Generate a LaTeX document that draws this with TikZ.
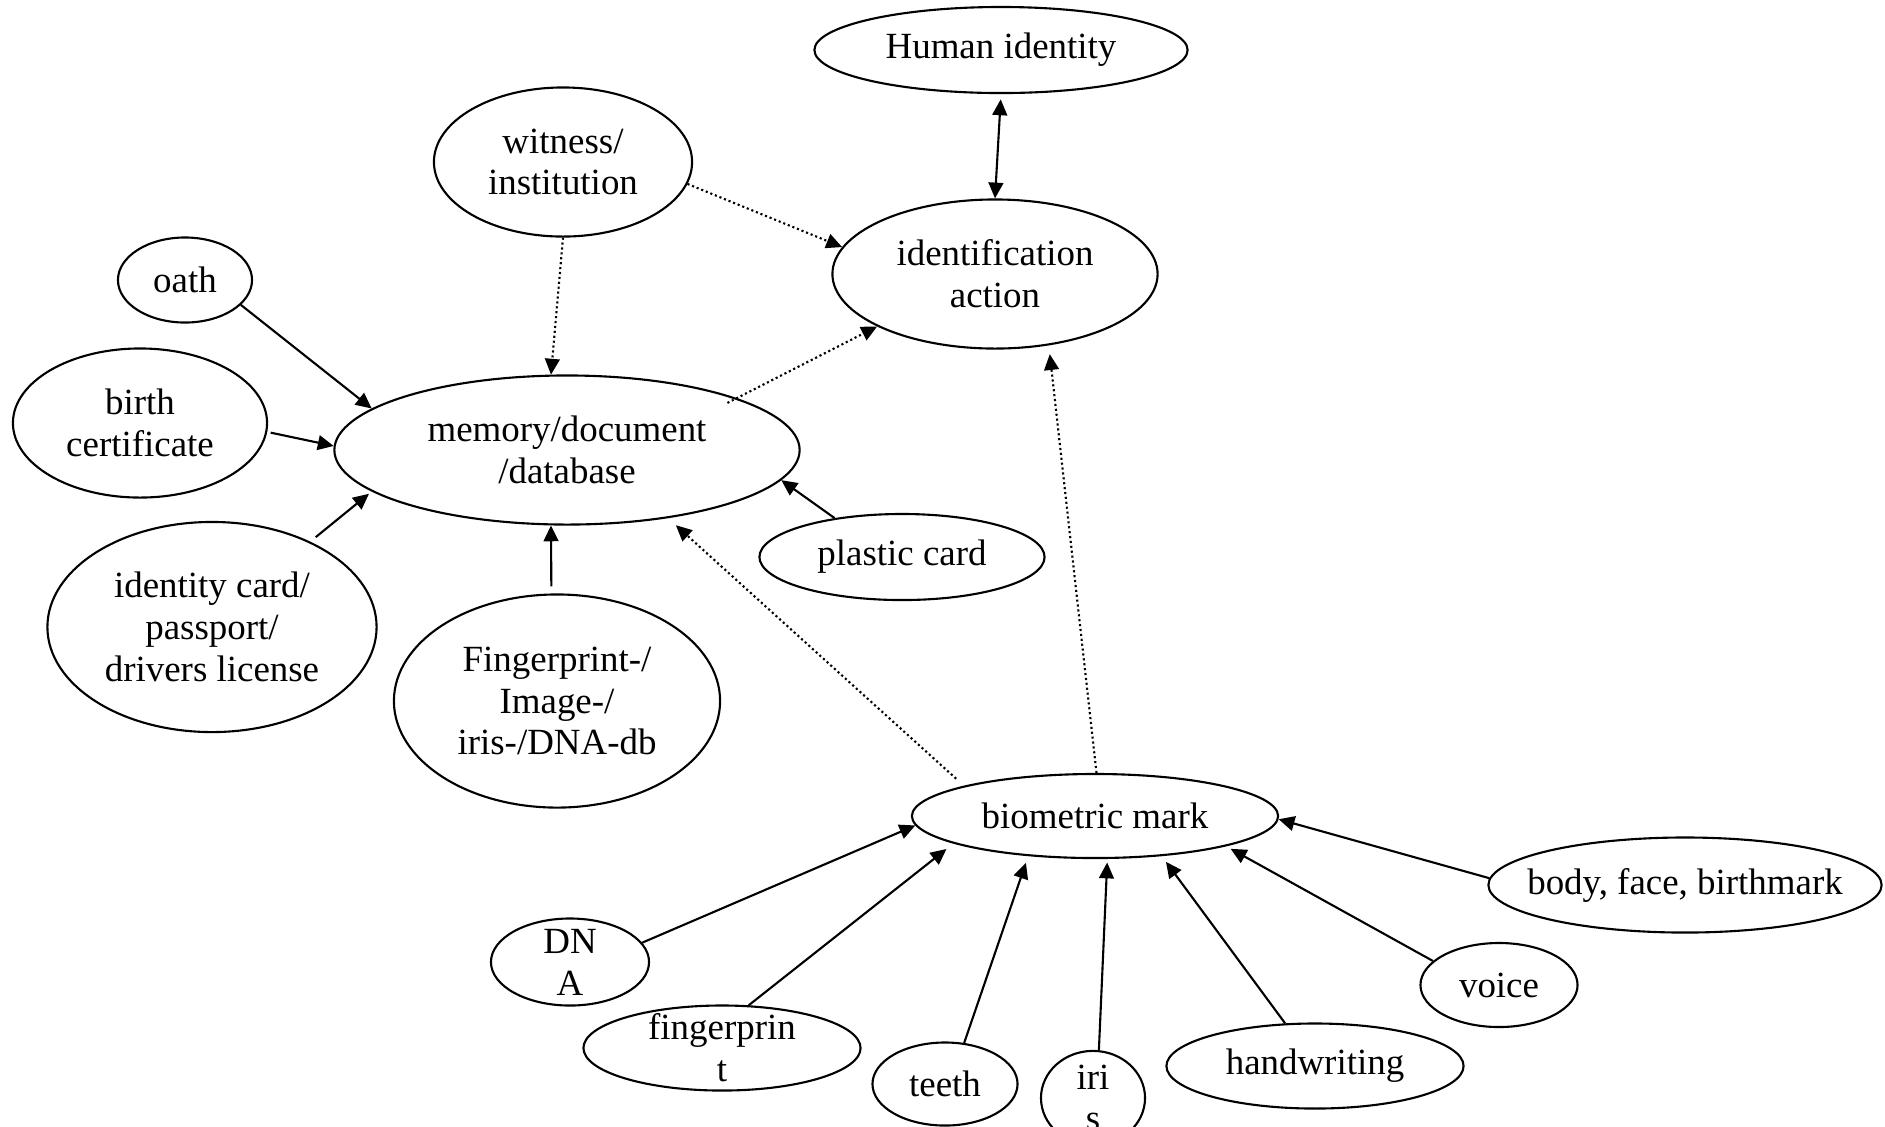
\documentclass[tikz,border=0pt]{standalone}
\usepackage{fontspec}
\setmainfont{Liberation Serif}
\usetikzlibrary{shapes.geometric, arrows.meta}

\begin{document}
\begin{tikzpicture}[
    x=0.01cm, y=-0.01cm,
    >={Triangle[length=4.5pt, width=4.2pt]},
    entity/.style={ellipse, draw=black, line width=0.6pt, inner sep=0pt, align=center, font=\fontsize{10.5}{11.9}\selectfont},
    link/.style={draw, line width=0.6pt, ->},
    hint/.style={link, dash pattern=on 0.6pt off 0.8pt}
]
\useasboundingbox (0,0) rectangle (1885,1126);

% Entities
\node[entity, minimum width=3.73cm, minimum height=0.86cm] (HumanId) at (1001,50) {Human identity};
\node[entity, minimum width=3.25cm, minimum height=1.49cm] (IdAction) at (995,274) {identification\\action};
\node[entity, minimum width=2.58cm, minimum height=1.49cm] (Witness) at (563,162) {witness/\\institution};
\node[entity, minimum width=1.34cm, minimum height=0.85cm] (Oath) at (185,280) {oath};
\node[entity, minimum width=2.54cm, minimum height=1.49cm] (Birth) at (140,423) {birth\\certificate};
\node[entity, minimum width=4.65cm, minimum height=1.49cm] (Memory) at (567,450) {memory/document\\/database};
\node[entity, minimum width=2.85cm, minimum height=0.86cm] (Plastic) at (902,557) {plastic card};
\node[entity, minimum width=3.29cm, minimum height=2.10cm] (IdCard) at (212,627) {identity card/\\passport/\\drivers license};
\node[entity, minimum width=3.26cm, minimum height=2.13cm] (BioDb) at (557,701) {Fingerprint-/\\Image-/\\iris-/DNA-db};

% Biometric marks
\node[entity, minimum width=3.66cm, minimum height=0.84cm] (BioMark) at (1095,816) {biometric mark};
\node[entity, inner xsep=-6pt, minimum width=3.93cm, minimum height=0.95cm] (Body) at (1685,885) {body, face, birthmark};
\node[entity, minimum width=1.57cm, minimum height=0.84cm] (Voice) at (1499,985) {voice};
\node[entity, minimum width=2.97cm, minimum height=0.85cm] (Handwriting) at (1315,1066) {handwriting};
\node[entity, minimum width=1.04cm, minimum height=0.92cm] (Iris) at (1093,1098) {iri\\s};
\node[entity, minimum width=1.45cm, minimum height=0.83cm] (Teeth) at (945,1084) {teeth};
\node[entity, inner ysep=-2pt, minimum width=2.77cm, minimum height=0.85cm] (Fingerprint) at (722,1048) {fingerprin\\t};
\node[entity, inner ysep=-2pt, minimum width=1.58cm, minimum height=0.87cm] (DNA) at (570,962) {DN\\A};

% Connections
\draw[link, <->, shorten <=1.5pt] (HumanId.south) -- (IdAction.north);
\draw[hint] (Witness.-10) -- (IdAction.170);
\draw[hint] (Witness.south) -- (Memory.102);
\draw[hint, shorten <=-3pt] (Memory.17) -- (IdAction.204);
\draw[hint, shorten >=2.5pt] (BioMark.88) -- (IdAction.-53);
\draw[hint, shorten <=3pt, shorten >=3pt] (BioMark.167) -- (Memory.-34);
\draw[link] (Oath.-24) -- (Memory.168);
\draw[link, shorten <=1pt] (Birth.-4) -- (Memory.179);
\draw[link, shorten <=2pt, shorten >=1pt] (IdCard.41) -- (Memory.192);
\draw[link, shorten <=2pt] (BioDb.93) -- (Memory.-102);
\draw[link] (Plastic.150) -- (Memory.-8);
\draw[link] (DNA.15) -- (BioMark.183);
\draw[link, shorten >=2.5pt] (Fingerprint.58) -- (BioMark.191);
\draw[link, shorten >=2pt] (Teeth.65) -- (BioMark.211);
\draw[link, shorten >=1pt] (Iris.83) -- (BioMark.-74);
\draw[link, shorten >=2pt] (Handwriting.125) -- (BioMark.-31);
\draw[link, shorten >=1.5pt] (Voice.160) -- (BioMark.-13);
\draw[link] (Body.178) -- (BioMark.-1);

\end{tikzpicture}
\end{document}
